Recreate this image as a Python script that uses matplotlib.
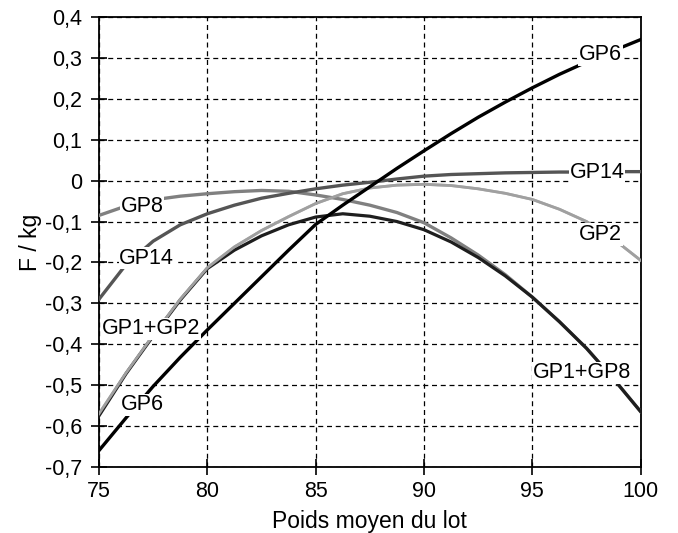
import matplotlib.pyplot as plt

plt.rcParams['font.family'] = ['Liberation Sans', 'DejaVu Sans']

# Poids moyen du lot
poids = [75, 76.25, 77.5, 78.75, 80, 81.25, 82.5, 83.75, 85, 86.25, 87.5, 88.75,
         90, 91.25, 92.5, 93.75, 95, 96.25, 97.5, 98.75, 100]

gp6 = [-0.66, -0.58, -0.503, -0.432, -0.365, -0.30, -0.235, -0.17, -0.107, -0.06, -0.015, 0.03,
       0.073, 0.115, 0.155, 0.192, 0.227, 0.26, 0.29, 0.318, 0.345]
gp14 = [-0.29, -0.205, -0.148, -0.108, -0.081, -0.06, -0.043, -0.031, -0.02, -0.011, -0.004, 0.004,
        0.011, 0.015, 0.017, 0.019, 0.02, 0.021, 0.021, 0.022, 0.022]
gp8 = [-0.085, -0.062, -0.047, -0.038, -0.032, -0.027, -0.024, -0.026, -0.035, -0.046, -0.06, -0.078,
       -0.103, -0.14, -0.182, -0.23, -0.285, -0.345, -0.41, -0.485, -0.565]
gp1_gp8 = [-0.575, -0.472, -0.38, -0.292, -0.215, -0.17, -0.135, -0.108, -0.089, -0.081, -0.087, -0.1,
           -0.12, -0.15, -0.188, -0.233, -0.285, -0.345, -0.41, -0.485, -0.565]
gp1_gp2 = [-0.57, -0.47, -0.378, -0.29, -0.213, -0.162, -0.122, -0.088, -0.056, -0.032, -0.018, -0.011,
           -0.009, -0.012, -0.02, -0.031, -0.046, -0.07, -0.1, -0.143, -0.195]
gp2 = [-0.57, -0.47, -0.378, -0.29, -0.213, -0.162, -0.122, -0.088, -0.056, -0.032, -0.018, -0.011,
       -0.009, -0.012, -0.02, -0.031, -0.046, -0.07, -0.1, -0.143, -0.195]

xticks = [75, 80, 85, 90, 95, 100]
yticks = [-0.7, -0.6, -0.5, -0.4, -0.3, -0.2, -0.1, 0, 0.1, 0.2, 0.3, 0.4]
ylabels = ['-0,7', '-0,6', '-0,5', '-0,4', '-0,3', '-0,2', '-0,1', '0', '0,1', '0,2', '0,3', '0,4']

fig = plt.figure(figsize=(6.78, 5.33), dpi=100)
ax = fig.add_axes([0.146, 0.124, 0.799, 0.844])

ax.plot(poids, gp2, color='#b4b4b4', lw=2.0, zorder=2)
ax.plot(poids, gp8, color='#808080', lw=2.4, zorder=3)
ax.plot(poids, gp14, color='#555555', lw=2.4, zorder=3)
ax.plot(poids, gp1_gp8, color='#1e1e1e', lw=2.3, zorder=4)
ax.plot(poids, gp1_gp2, color='#a0a0a0', lw=2.0, zorder=4.5)
ax.plot(poids, gp6, color='black', lw=2.4, zorder=5)

# etiquettes des courbes
etiquettes = [
    ('GP6', 98.15, 0.308), ('GP14', 98.0, 0.02), ('GP2', 98.15, -0.132),
    ('GP1+GP8', 97.3, -0.47), ('GP8', 77.0, -0.063), ('GP14', 77.2, -0.19),
    ('GP1+GP2', 77.4, -0.362), ('GP6', 77.0, -0.548),
]
for txt, x, y in etiquettes:
    ax.text(x, y, txt, fontsize=15.5, ha='center', va='center', zorder=10,
            bbox=dict(facecolor='white', edgecolor='none', pad=0.5))

ax.set_xlim(75, 100)
ax.set_ylim(-0.7, 0.4)
ax.set_xticks(xticks)
ax.set_yticks(yticks)
ax.set_yticklabels(ylabels)
ax.tick_params(direction='inout', length=12, width=1.2, labelsize=15.5)
ax.tick_params(axis='y', pad=6)
ax.tick_params(axis='x', pad=4)
ax.grid(True, color='black', linestyle=(0, (4, 3)), linewidth=0.9)
ax.set_axisbelow(True)
for s in ax.spines.values():
    s.set_linewidth(1.3)

ax.set_xlabel('Poids moyen du lot', fontsize=16.5, labelpad=6)
ax.set_ylabel('F / kg', fontsize=16.5, labelpad=2)

fig.savefig('out.png', dpi=100)
